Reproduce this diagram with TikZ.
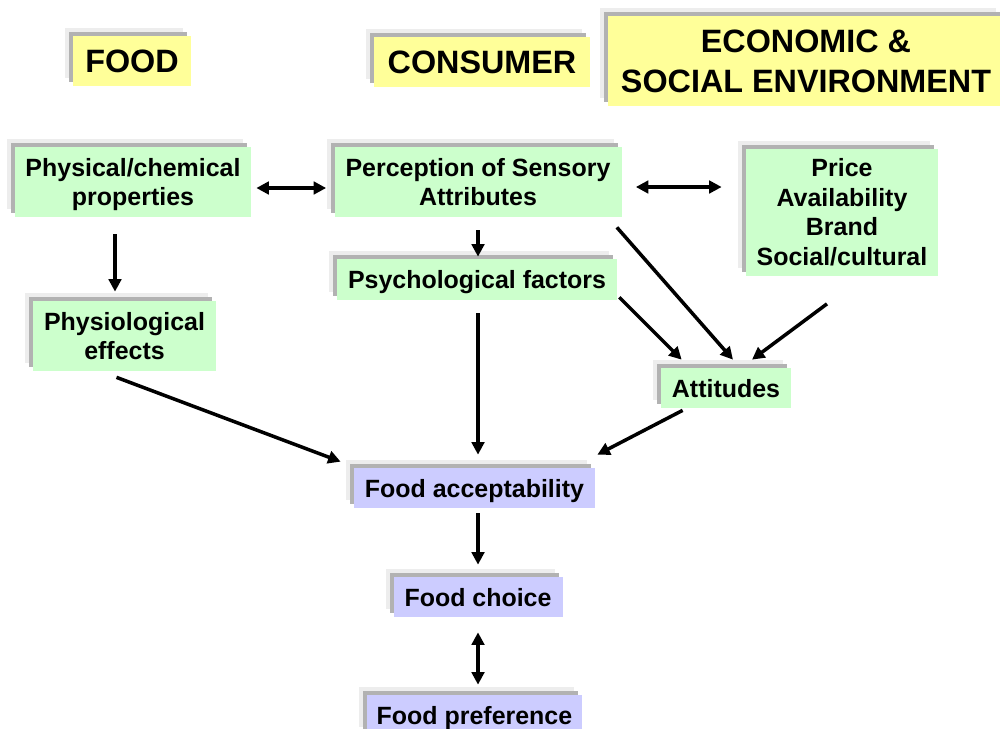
\documentclass[tikz,border=0pt]{standalone}
\usepackage{fontspec}
\setmainfont{Liberation Sans}
\usetikzlibrary{arrows.meta, calc, shadows}
\definecolor{headfill}{HTML}{FFFF99}
\definecolor{factorfill}{HTML}{CCFFCC}
\definecolor{outcomefill}{HTML}{CCCCFF}
\tikzset{
  box/.style={rectangle, inner sep=0pt, text depth=0pt, align=center, font=\fontsize{14.2}{17}\selectfont\bfseries,
    general shadow={fill=gray!14, shadow xshift=-1.6mm, shadow yshift=1.6mm},
    general shadow={fill=gray!60, shadow xshift=-0.8mm, shadow yshift=0.8mm}},
  head/.style={box, fill=headfill, font=\fontsize{18.4}{22.7}\selectfont\bfseries},
  factor/.style={box, fill=factorfill},
  outcome/.style={box, fill=outcomefill},
  line/.style={-{Triangle[length=2.5mm,width=2.5mm]}, line width=2pt},
  both/.style={line, {Triangle[length=2.5mm,width=2.5mm]}-{Triangle[length=2.5mm,width=2.5mm]}}
}

\begin{document}
\begin{tikzpicture}[x=0.2mm, y=-0.2mm]
    \useasboundingbox (0,0) rectangle (1000,728);
    \clip (0,0) rectangle (1000,728);
    % column headings
    \node[head, minimum width=23.6mm, minimum height=10mm] (food) at (132,61) {FOOD};
    \node[head, minimum width=43.2mm, minimum height=10mm] (cons) at (482,62) {CONSUMER};
    \node[head, minimum width=79.2mm, minimum height=18mm] (env) at (806,61) {ECONOMIC \&\\SOCIAL ENVIRONMENT};
    % influences
    \node[factor, minimum width=47.2mm, minimum height=14mm] (phys) at (133,182) {Physical/chemical\\properties};
    \node[factor, minimum width=57.4mm, minimum height=14mm] (perc) at (478,182) {Perception of Sensory\\Attributes};
    \node[factor, minimum width=38.4mm, minimum height=25.4mm] (price) at (842,212) {Price\\Availability\\Brand\\Social/cultural};
    \node[factor, minimum width=56mm, minimum height=8.2mm] (psych) at (477,279.5) {Psychological factors};
    \node[factor, minimum width=36.6mm, minimum height=14mm] (physio) at (124.5,336) {Physiological\\effects};
    \node[factor, minimum width=26mm, minimum height=8mm] (att) at (726,388) {Attitudes};
    % outcomes
    \node[outcome, minimum width=48.2mm, minimum height=8mm] (acc) at (474.5,488) {Food acceptability};
    \node[outcome, minimum width=33.8mm, minimum height=8mm] (choice) at (478,597) {Food choice};
    \node[outcome, minimum width=43mm, minimum height=8mm] (pref) at (474.5,715) {Food preference};
    % connectors
    \draw[both] ($(phys.east)+(5,6)$) -- ($(perc.west)+(-8,6)$);
    \draw[both] ($(perc.east)+(14,5)$) -- ($(perc.east -| price.west)+(-24,5)$);
    \draw[line] ($(phys.south)+(-18,17)$) -- ($(phys.south |- physio.north)+(-18,-9)$);
    \draw[line] ($(perc.south)+(0,13)$) -- ($(perc.south |- psych.north)+(0,-2)$);
    \draw[line] ($(psych.south)+(1,13)$) -- ($(psych.south |- acc.north)+(1,-13)$);
    \draw[line] ($(physio.south)+(-8,6)$) -- ($(acc.north west)+(-13,-6)$);
    \draw[line] ($(psych.south east)+(2,-3)$) -- ($(att.north west)+(21,-8)$);
    \draw[line] ($(perc.south east)+(-5,10)$) -- ($(att.north)+(7,-8)$);
    \draw[line] ($(price.south)+(-15,28)$) -- ($(att.north)+(26,-8)$);
    \draw[line] ($(att.south west)+(22,2)$) -- ($(acc.north east)+(2,-13)$);
    \draw[line] ($(choice.north |- acc.south)+(0,5)$) -- ($(choice.north)+(0,-12)$);
    \draw[both] ($(choice.south)+(0,15)$) -- ($(choice.south |- pref.north)+(0,-10)$);
\end{tikzpicture}
\end{document}
